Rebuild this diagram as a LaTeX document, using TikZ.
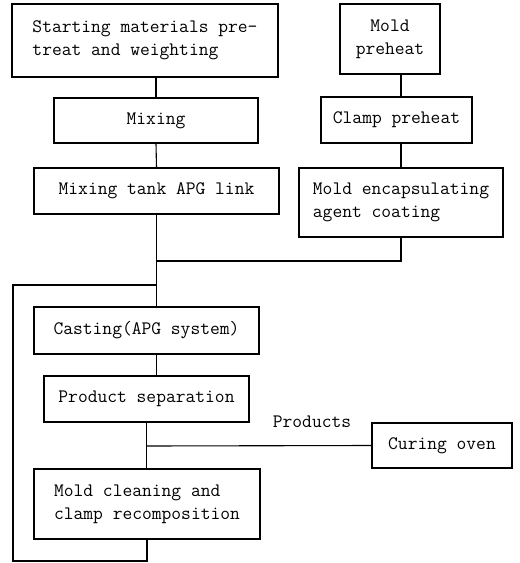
\documentclass[tikz,border=0pt]{standalone}
\usepackage{fontspec}
\begin{document}
\begin{tikzpicture}[x=1pt,y=-1pt,
  box/.style={draw, line width=1.1pt, inner sep=0pt, font=\ttfamily\fontsize{19}{23}\selectfont, align=left},
  lbl/.style={inner sep=0pt, font=\ttfamily\fontsize{19}{23}\selectfont},
  conn/.style={line width=1.1pt}]
\useasboundingbox (0,0) rectangle (520,563);
\node[box, minimum width=266pt, minimum height=73pt] (start) at (145,40.5) {Starting materials pre-\\treat and weighting};
\node[box, minimum width=100pt, minimum height=70pt, align=center] (mold) at (390,39) {Mold\\preheat};
\node[box, minimum width=204pt, minimum height=45pt] (mix) at (156,120.5) {Mixing};
\node[box, minimum width=245pt, minimum height=46pt] (tank) at (156.5,191) {Mixing tank APG link};
\node[box, minimum width=151pt, minimum height=46pt] (clamp) at (396.5,120) {Clamp preheat};
\node[box, minimum width=204pt, minimum height=69pt] (enc) at (401,202.5) {Mold encapsulating\\agent coating};
\node[box, minimum width=225pt, minimum height=47pt] (cast) at (146.5,330.5) {Casting(APG system)};
\node[box, minimum width=205pt, minimum height=46pt] (prod) at (146.5,399) {Product separation};
\node[box, minimum width=140pt, minimum height=45pt] (cure) at (442,445.5) {Curing oven};
\node[box, minimum width=226pt, minimum height=70pt] (clean) at (147,504) {Mold cleaning and\\clamp recomposition};
\node[lbl] (products) at (312,422) {Products};
\coordinate (j1) at (156.5,261);
\coordinate (j2) at (156.5,285);
\coordinate (lp1) at (13,285);
\coordinate (lp2) at (13,561);
\coordinate (j3) at (146.5,446);
\draw[conn] (mix.north |- start.south) -- (mix.north);
\draw[conn] (mix.south) -- (tank.north);
\draw[conn] (enc.north |- mold.south) -- (enc.north |- clamp.north);
\draw[conn] (enc.north |- clamp.south) -- (enc.north);
\draw[conn] (enc.south) |- (j1);
\draw[conn] (tank.south) -- (tank.south |- cast.north);
\draw[conn] (j2) -- (lp1) -- (lp2) -| (clean.south);
\draw[conn] (tank.south |- cast.south) -- (tank.south |- prod.north);
\draw[conn] (prod.south) -- (prod.south |- clean.north);
\draw[conn] (j3) -- (cure.west);
\end{tikzpicture}
\end{document}
